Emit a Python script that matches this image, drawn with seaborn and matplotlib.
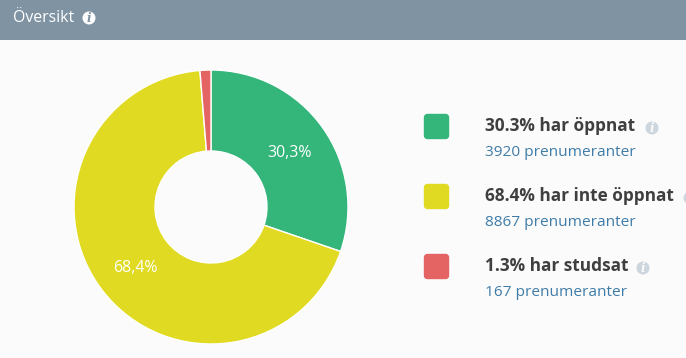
import matplotlib
matplotlib.use("Agg")
import matplotlib.pyplot as plt
from matplotlib.patches import Circle, FancyBboxPatch, Rectangle
import seaborn as sns

title = "Översikt"
subscribers = [3920, 8867, 167]
pie_labels = ["30,3%", "68,4%", ""]
legend_titles = ["30.3% har öppnat", "68.4% har inte öppnat", "1.3% har studsat"]
legend_subs = ["3920 prenumeranter", "8867 prenumeranter", "167 prenumeranter"]
colors = ["#34b57a", "#e0da22", "#e46464"]

sns.set_theme(style="white")
plt.rcParams['font.family'] = ['Open Sans', 'DejaVu Sans']

fig = plt.figure(figsize=(6.86, 3.58), dpi=100, facecolor="#fbfbfb")
# axes in pixel units, so the layout can be read straight off the reference
ax = fig.add_axes([0, 0, 1, 1])
ax.set_facecolor("#fbfbfb")

# y axis is flipped below, so start at 270 and go counterclockwise to read clockwise from the top
ax.pie(subscribers, colors=colors, startangle=270, counterclock=True,
       center=(211, 207), radius=137,
       wedgeprops=dict(width=81, edgecolor="white", linewidth=1))
ax.set_xlim(0, 686)
ax.set_ylim(358, 0)
ax.set_aspect("equal")
ax.axis("off")

# pie labels
ax.text(289, 153, pie_labels[0], color="white", fontsize=11.4, ha="center", va="center")
ax.text(135, 268, pie_labels[1], color="white", fontsize=11.4, ha="center", va="center")


def info_icon(x, y, r, bg, fg):
    ax.add_patch(Circle((x, y), r, facecolor=bg, edgecolor="none", zorder=5))
    # the icon on the second row runs off the edge, only its rim shows
    if x + r < 686:
        ax.text(x, y + 0.3, "i", color=fg, fontsize=r * 1.35, fontweight="bold", style="italic",
                family="DejaVu Serif", ha="center", va="center", zorder=6)


# header
ax.add_patch(Rectangle((0, 0), 686, 40, facecolor="#7f93a3", edgecolor="none", zorder=4))
ax.text(13, 18, title, color="white", fontsize=11.4, va="center", zorder=5)
info_icon(89, 18, 6.5, "white", "#7f93a3")

# legend
swatch_y = [114, 184, 254]
title_y = [126, 196, 266]
sub_y = [152, 222, 292]
icon_x = [652, 690, 643]
for i in range(3):
    ax.add_patch(FancyBboxPatch((424.5, swatch_y[i] + 0.5), 24, 24, boxstyle="round,pad=0,rounding_size=3",
                                facecolor=colors[i], edgecolor=colors[i], linewidth=1))
    ax.text(485, title_y[i], legend_titles[i], color="#3f3f3f", fontsize=12.4, fontweight="bold", va="center")
    ax.text(485, sub_y[i], legend_subs[i], color="#3f7ca8", fontsize=11.1, va="center")
    info_icon(icon_x[i], title_y[i] + 2, 6.5, "#cdd5dd", "#fbfbfb")

fig.savefig("out.png", dpi=100, facecolor=fig.get_facecolor())
